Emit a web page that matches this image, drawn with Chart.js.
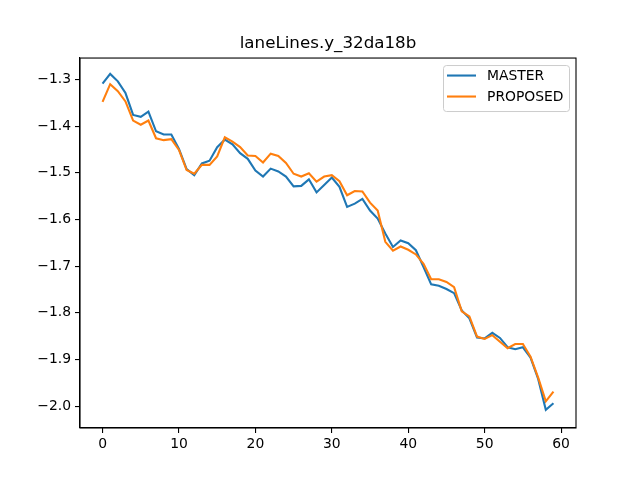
<!DOCTYPE html>
<html>
<head>
<meta charset="utf-8">
<script src="https://cdn.jsdelivr.net/npm/chart.js@4"></script>
<style>
  body { margin: 0; background: #fff; }
</style>
</head>
<body>
<canvas id="laneChart" width="640" height="480"></canvas>
<script>
    /* Data */
    const steps = [
        0, 1, 2, 3, 4, 5, 6, 7, 8, 9,
        10, 11, 12, 13, 14, 15, 16, 17, 18, 19,
        20, 21, 22, 23, 24, 25, 26, 27, 28, 29,
        30, 31, 32, 33, 34, 35, 36, 37, 38, 39,
        40, 41, 42, 43, 44, 45, 46, 47, 48, 49,
        50, 51, 52, 53, 54, 55, 56, 57, 58, 59
    ];
    const master = [
        -1.309, -1.288, -1.304, -1.329, -1.376, -1.380, -1.369, -1.411, -1.418, -1.418,
        -1.449, -1.492, -1.505, -1.480, -1.474, -1.445, -1.429, -1.439, -1.458, -1.470,
        -1.495, -1.508, -1.491, -1.497, -1.508, -1.529, -1.528, -1.514, -1.542, -1.526,
        -1.510, -1.530, -1.573, -1.566, -1.556, -1.581, -1.598, -1.630, -1.659, -1.645,
        -1.651, -1.666, -1.702, -1.739, -1.742, -1.749, -1.758, -1.795, -1.812, -1.853,
        -1.855, -1.843, -1.854, -1.874, -1.878, -1.874, -1.896, -1.942, -2.008, -1.994
    ];
    const proposed = [
        -1.348, -1.310, -1.325, -1.347, -1.388, -1.397, -1.388, -1.426, -1.430, -1.428,
        -1.451, -1.494, -1.502, -1.483, -1.483, -1.465, -1.424, -1.433, -1.445, -1.463,
        -1.464, -1.478, -1.459, -1.464, -1.479, -1.502, -1.508, -1.501, -1.519, -1.508,
        -1.505, -1.518, -1.548, -1.539, -1.540, -1.564, -1.581, -1.648, -1.667, -1.658,
        -1.665, -1.675, -1.695, -1.728, -1.728, -1.734, -1.745, -1.797, -1.808, -1.851,
        -1.856, -1.848, -1.862, -1.876, -1.867, -1.867, -1.894, -1.939, -1.990, -1.969
    ];
    const xTicks = [0, 10, 20, 30, 40, 50, 60];
    const yTicks = [-2.0, -1.9, -1.8, -1.7, -1.6, -1.5, -1.4, -1.3];

    const seriesNames = ['MASTER', 'PROPOSED'];
    const seriesColors = ['#1f77b4', '#ff7f0e'];
    const font = 'DejaVu Sans';

    function toPoints(values) {
        return values.map(function(v, i) { return { x: steps[i], y: v }; });
    }

    /* frame on top/right like matplotlib spines */
    const framePlugin = {
        id: 'frame',
        afterDatasetsDraw: function(chart) {
            const a = chart.chartArea;
            const ctx = chart.ctx;
            ctx.save();
            ctx.strokeStyle = '#000';
            ctx.lineWidth = 1.1;
            ctx.strokeRect(a.left, a.top, a.right - a.left, a.bottom - a.top);
            ctx.restore();
        }
    };

    /* legend box in upper right of the axes */
    const legendPlugin = {
        id: 'boxLegend',
        afterDraw: function(chart) {
            const a = chart.chartArea;
            const ctx = chart.ctx;
            const w = 126, h = 46;
            const x = a.right - 7 - w, y = a.top + 7;
            ctx.save();
            ctx.beginPath();
            ctx.roundRect(x + 0.5, y + 0.5, w, h, 3);
            ctx.fillStyle = 'rgba(255,255,255,0.8)';
            ctx.fill();
            ctx.strokeStyle = '#cccccc';
            ctx.lineWidth = 1;
            ctx.stroke();
            ctx.font = '13.9px "' + font + '"';
            ctx.textBaseline = 'middle';
            ctx.fillStyle = '#000';
            for (let i = 0; i < seriesNames.length; i++) {
                const ry = y + 10.5 + i * 21;
                ctx.beginPath();
                ctx.moveTo(x + 4, ry);
                ctx.lineTo(x + 33, ry);
                ctx.strokeStyle = seriesColors[i];
                ctx.lineWidth = 2.1;
                ctx.stroke();
                ctx.fillText(seriesNames[i], x + 44, ry + 0.5);
            }
            ctx.restore();
        }
    };

    const config = {
        type: 'line',
        data: {
            datasets: [
                {
                    label: seriesNames[0],
                    data: toPoints(master),
                    borderColor: seriesColors[0],
                    backgroundColor: seriesColors[0],
                    borderWidth: 2.1,
                    pointRadius: 0,
                    fill: false,
                    order: 1,
                },
                {
                    label: seriesNames[1],
                    data: toPoints(proposed),
                    borderColor: seriesColors[1],
                    backgroundColor: seriesColors[1],
                    borderWidth: 2.1,
                    pointRadius: 0,
                    fill: false,
                    order: 0,
                }
            ]
        },
        options: {
            responsive: false,
            animation: false,
            layout: {
                padding: { left: 0, right: 64, top: 0, bottom: 0 }
            },
            plugins: {
                legend: { display: false },
                tooltip: { enabled: false },
                title: {
                    display: true,
                    fullSize: false,
                    text: 'laneLines.y_32da18b',
                    color: '#000',
                    font: { family: font, size: 16.7, weight: 'normal', lineHeight: 1.2 },
                    padding: { top: 34, bottom: 4 }
                }
            },
            scales: {
                x: {
                    type: 'linear',
                    min: -2.95,
                    max: 61.95,
                    afterBuildTicks: function(scale) {
                        scale.ticks = xTicks.map(function(v) { return { value: v }; });
                    },
                    afterFit: function(scale) {
                        scale.height = 52;
                        scale.paddingLeft = 0;
                        scale.paddingRight = 0;
                    },
                    grid: { drawOnChartArea: false, drawTicks: true, tickLength: 5, color: '#000', lineWidth: 1.1 },
                    border: { display: true, color: '#000', width: 1.1 },
                    ticks: {
                        color: '#000',
                        padding: 3,
                        maxRotation: 0,
                        autoSkip: false,
                        font: { family: font, size: 13.9 },
                        callback: function(v) { return String(v); }
                    }
                },
                y: {
                    min: -2.047,
                    max: -1.254,
                    afterBuildTicks: function(scale) {
                        scale.ticks = yTicks.map(function(v) { return { value: v }; });
                    },
                    afterFit: function(scale) {
                        scale.width = 80;
                        scale.paddingTop = 0;
                        scale.paddingBottom = 0;
                    },
                    grid: { drawOnChartArea: false, drawTicks: true, tickLength: 5, color: '#000', lineWidth: 1.1 },
                    border: { display: true, color: '#000', width: 1.1 },
                    ticks: {
                        color: '#000',
                        padding: 4,
                        autoSkip: false,
                        font: { family: font, size: 13.9 },
                        callback: function(v) { return v.toFixed(1).replace('-', '\u2212'); }
                    }
                }
            }
        },
        plugins: [framePlugin, legendPlugin]
    };

    var ctx = document.getElementById('laneChart').getContext('2d');
    window.laneChart = new Chart(ctx, config);
</script>
</body>
</html>
